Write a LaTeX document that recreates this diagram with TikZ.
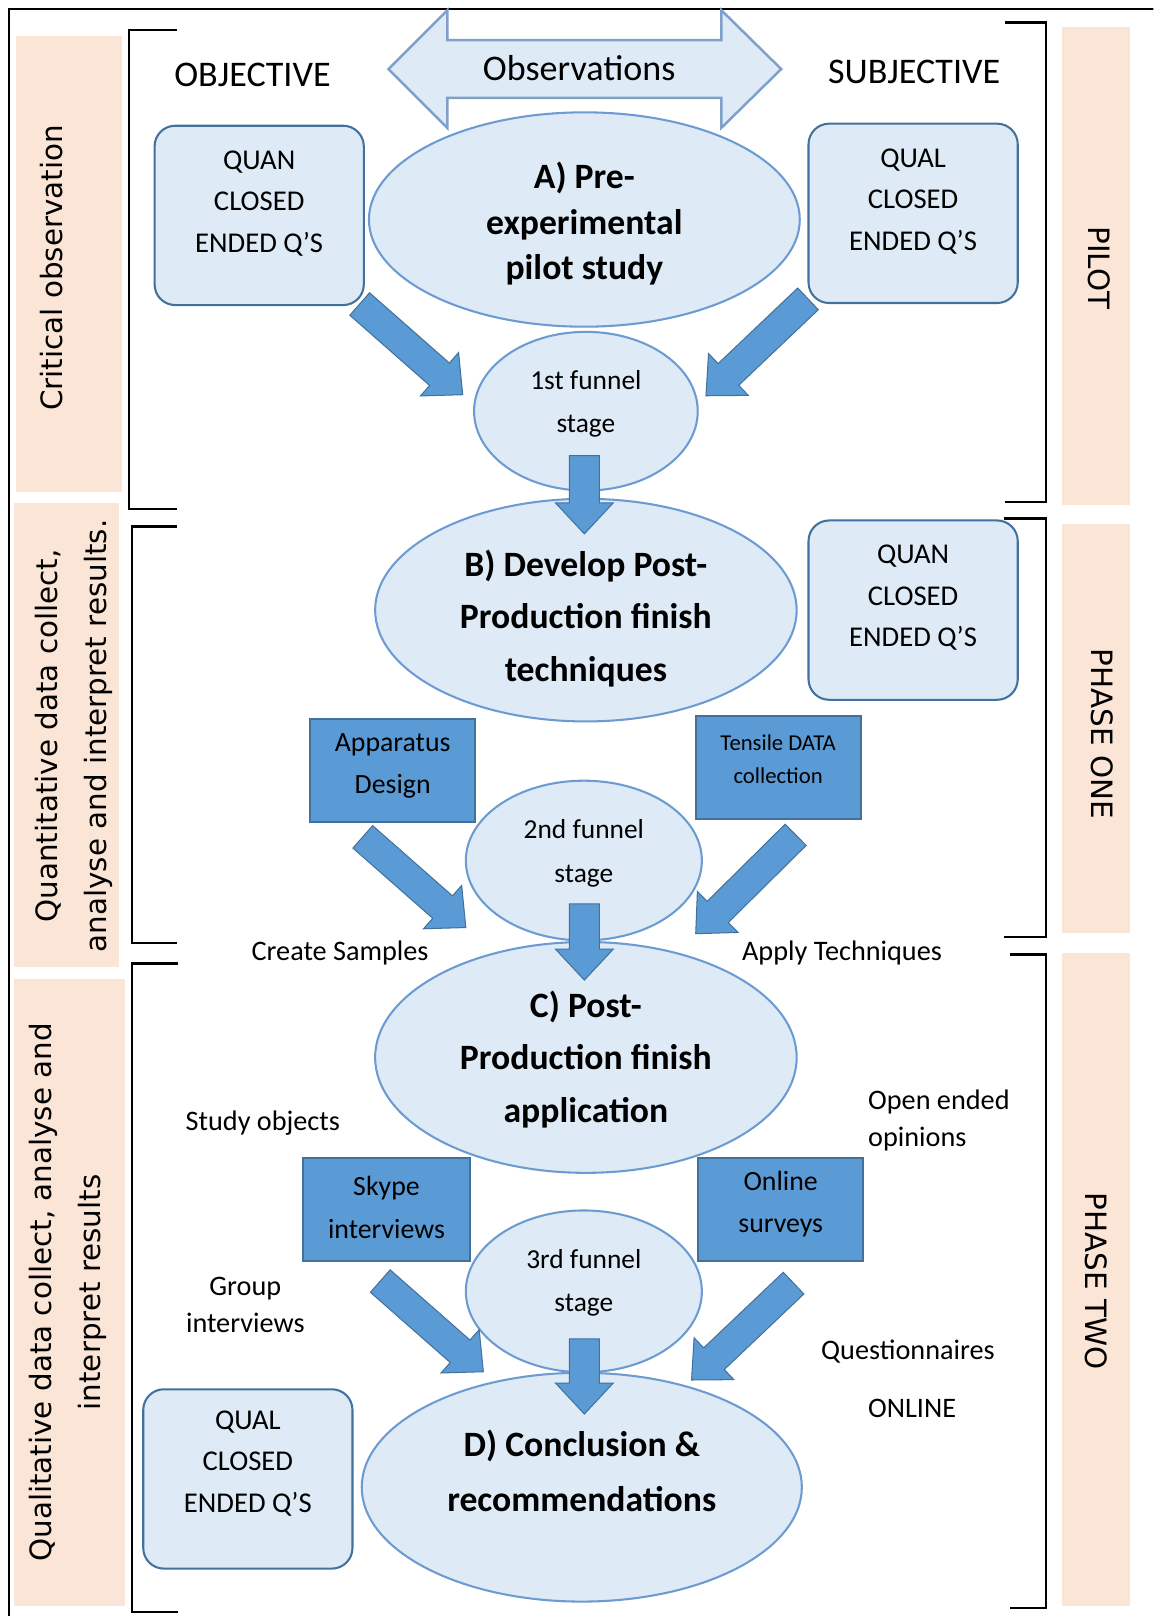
\documentclass[tikz,border=0pt]{standalone}
\usepackage{fontspec}
\setmainfont{Carlito}
\newfontfamily\sidefont{DejaVu Sans}
\usetikzlibrary{shapes, arrows.meta, positioning, calc}
\definecolor{paleblue}{HTML}{DEEBF7}
\definecolor{midblue}{HTML}{5B9BD5}
\definecolor{darkblue}{HTML}{41719C}
\definecolor{rimblue}{HTML}{6C9BD2}
\definecolor{obsrim}{HTML}{7FA0C9}
\definecolor{peach}{HTML}{FBE5D6}
\tikzstyle{stage}=[draw=rimblue, line width=1pt, fill=paleblue, ellipse, inner sep=0pt]
\tikzstyle{stagetext}=[font=\fontsize{17.3}{25.5}\selectfont\bfseries, align=center]
\tikzstyle{funneltext}=[font=\fontsize{13.3}{21}\selectfont, align=center]
\tikzstyle{qbox}=[draw=darkblue, line width=1pt, fill=paleblue, rounded corners=10pt, minimum width=101.5pt, minimum height=87pt]
\tikzstyle{qtext}=[font=\fontsize{13.9}{20}\selectfont, align=center]
\tikzstyle{tool}=[draw=darkblue, line width=1pt, fill=midblue, minimum width=80pt, minimum height=50pt]
\tikzstyle{tooltext}=[font=\fontsize{13.5}{20.5}\selectfont, align=center]
\tikzstyle{note}=[font=\fontsize{13.7}{18}\selectfont, align=center, inner sep=0pt]
\tikzstyle{head}=[font=\fontsize{17.5}{21}\selectfont, inner sep=0pt]
\tikzstyle{band}=[fill=peach]
\tikzstyle{side}=[font=\sidefont\fontsize{14.25}{23.5}\selectfont, align=center, inner sep=0pt]
\tikzstyle{bracket}=[line width=1.2pt]
\tikzstyle{fat}=[fill=midblue, draw=darkblue, line width=0.5pt]
\newcommand{\fatarrow}[2]{%
  \path let \p1=($(#2)-(#1)$) in
    \pgfextra{\pgfmathparse{atan2(\y1,\x1)}\xdef\fatang{\pgfmathresult}%
      \pgfmathparse{veclen(\x1,\y1)}\xdef\fatlen{\pgfmathresult}};
  \path[fat, shift={(#1)}, rotate=\fatang]
    (0pt,-7.25pt) -- ({\fatlen pt-15pt},-7.25pt) -- ({\fatlen pt-15pt},-14pt)
    -- (\fatlen pt,0pt) -- ({\fatlen pt-15pt},14pt) -- ({\fatlen pt-15pt},7.25pt)
    -- (0pt,7.25pt) -- cycle;
}
\begin{document}
\begin{tikzpicture}[x=0.5pt, y=-0.5pt]
  \useasboundingbox (0,0) rectangle (1119,1568);
  \clip (0,0) rectangle (1119,1568);
  \fill[white] (0,0) rectangle (1119,1568);
  \fill[band] (16,35) rectangle (118,477);
  \fill[band] (14,488) rectangle (115,938);
  \fill[band] (14,950) rectangle (121,1558);
  \fill[band] (1030,26) rectangle (1096,490);
  \fill[band] (1030,508) rectangle (1096,905);
  \fill[band] (1030,925) rectangle (1096,1558);
  \draw[bracket] (172,29) -- (125,29) -- (125,494) -- (172,494);
  \draw[bracket] (172,511) -- (128,511) -- (128,915) -- (172,915);
  \draw[bracket] (173,935) -- (128,935) -- (128,1564) -- (173,1564);
  \draw[bracket] (975,22) -- (1015,22) -- (1015,487) -- (975,487);
  \draw[bracket] (974,503) -- (1015,503) -- (1015,909) -- (974,909);
  \draw[bracket] (980,926) -- (1015,926) -- (1015,1560) -- (980,1560);
  \draw[line width=1.2pt] (8.5,1580) -- (8.5,8.5) -- (1130,8.5);
  \draw[fill=paleblue, draw=obsrim, line width=1.2pt] (377,67) -- (434,10) -- (434,39) -- (700,39)
    -- (700,10) -- (758,67) -- (700,124) -- (700,95) -- (434,95) -- (434,124) -- cycle;
  \node[head] (obs) at (562,66) {Observations};
  \node[head] (obj) at (245,73) {OBJECTIVE};
  \node[head] (subj) at (887,70) {SUBJECTIVE};

  \node[stage, minimum width=209pt, minimum height=104pt,
    label={[stagetext, font=\fontsize{17.3}{22}\selectfont\bfseries, yshift=-2pt]center:A) Pre-\\experimental\\pilot study}] (A) at (567,213) {};
  \node[stage, minimum width=108.5pt, minimum height=77pt,
    label={[funneltext, yshift=3.5pt]center:1st funnel\\stage}] (fun1) at (568.5,399) {};
  \node[stage, minimum width=204.5pt, minimum height=108pt,
    label={[stagetext, yshift=-4pt]center:B) Develop Post-\\Production finish\\techniques}] (B) at (568.5,592) {};
  \node[stage, minimum width=114.5pt, minimum height=77.5pt,
    label={[funneltext, yshift=3.5pt]center:2nd funnel\\stage}] (fun2) at (566.5,835) {};
  \node[stage, minimum width=204.5pt, minimum height=112pt,
    label={[stagetext, yshift=-1pt]center:C) Post-\\Production finish\\application}] (C) at (568.5,1026) {};
  \node[stage, minimum width=114.5pt, minimum height=78.5pt,
    label={[funneltext, yshift=4pt]center:3rd funnel\\stage}] (fun3) at (566.5,1253) {};
  \node[stage, minimum width=213.5pt, minimum height=111pt,
    label={[stagetext, font=\fontsize{17.3}{26.5}\selectfont\bfseries, yshift=8pt]center:D) Conclusion \&\\recommendations}] (D) at (564.5,1443) {};

  \node[qbox, label={[qtext, yshift=5.75pt]center:QUAN\\CLOSED\\ENDED Q'S}] (quanA) at (251.5,209) {};
  \node[qbox, label={[qtext, yshift=5.75pt]center:QUAL\\CLOSED\\ENDED Q'S}] (qualA) at (886,207) {};
  \node[qbox, label={[qtext, yshift=6pt]center:QUAN\\CLOSED\\ENDED Q'S}] (quanB) at (886,592) {};
  \node[qbox, label={[qtext, yshift=7.5pt]center:QUAL\\CLOSED\\ENDED Q'S}] (qualD) at (240.5,1435) {};

  \node[tool, label={[tooltext, yshift=2pt]center:Apparatus\\Design}] (app) at (381,747.5) {};
  \node[tool, label={[tooltext, font=\fontsize{11}{16}\selectfont, yshift=3.75pt]center:Tensile DATA\\collection}] (tens) at (755,744.5) {};
  \node[tool, minimum width=81pt, label={[tooltext, yshift=1pt]center:Skype\\interviews}] (skype) at (375,1173.5) {};
  \node[tool, label={[tooltext, yshift=2.75pt]center:Online\\surveys}] (online) at (757.5,1173.5) {};

  \coordinate (a1s) at (349,295);  \coordinate (a1e) at (449,383);
  \coordinate (a2s) at (784,290);  \coordinate (a2e) at (685,384);
  \coordinate (a3s) at (352,812);  \coordinate (a3e) at (452,900);
  \coordinate (a4s) at (772,810);  \coordinate (a4e) at (675,906);
  \coordinate (a5s) at (369,1243); \coordinate (a5e) at (469,1331);
  \coordinate (a6s) at (770,1245); \coordinate (a6e) at (671,1339);
  \coordinate (d1s) at (567,442);  \coordinate (d1e) at (567,518);
  \coordinate (d2s) at (567,877);  \coordinate (d2e) at (567,951);
  \coordinate (d3s) at (567,1299); \coordinate (d3e) at (567,1372);
  \foreach \a in {a1,a2,a3,a4,a5,a6,d1,d2,d3}
    {\fatarrow{\a s}{\a e}}

  \node[note] (create) at (330,925) {Create Samples};
  \node[note] (apply) at (817,925) {Apply Techniques};
  \node[note] (study) at (255,1090) {Study objects};
  \node[note] (group) at (238,1266) {Group\\interviews};
  \node[note, align=left, anchor=west] (open) at (842,1087.5) {Open ended\\opinions};
  \node[note] (quest) at (881,1311) {Questionnaires};
  \node[note] (onl) at (885,1367) {ONLINE};

  \node[side, rotate=90] (crit) at (50,260) {Critical observation};
  \node[side, rotate=90] (quant) at (71.5,714) {Quantitative data collect,\\analyse and interpret results.};
  \node[side, rotate=90] (qual) at (66,1254) {Qualitative data collect, analyse and\\interpret results};
  \node[side, rotate=-90] (pilot) at (1067,260) {PILOT};
  \node[side, rotate=-90] (one) at (1069,712) {PHASE ONE};
  \node[side, rotate=-90] (two) at (1064,1243) {PHASE TWO};
\end{tikzpicture}
\end{document}
